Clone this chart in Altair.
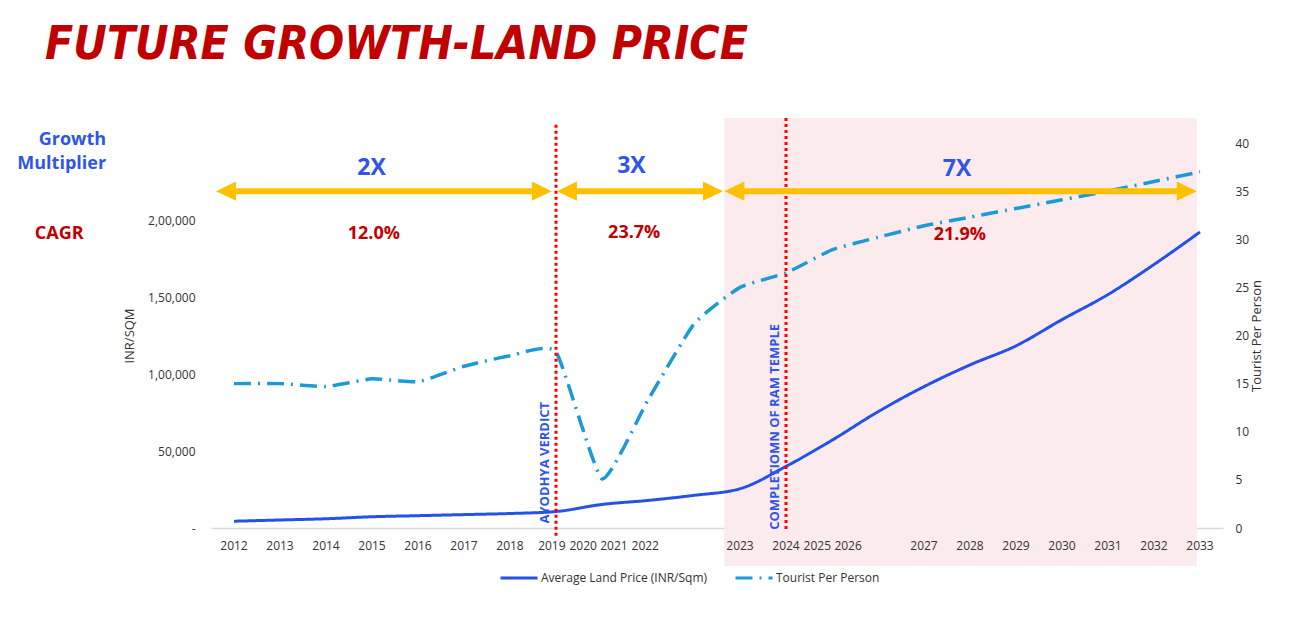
import json
import altair as alt
import pandas as pd

# ---------------- data ----------------
years = list(range(2012, 2034))
land_price = [4400, 5200, 6000, 7300, 8000, 8700, 9400, 10700, 15300, 17900, 21200,
              25500, 40000, 57000, 75500, 91800, 105900, 118300, 135300, 151600, 171100, 192200]
tourists = [15.0, 15.0, 14.7, 15.5, 15.2, 16.8, 17.9, 18.3, 5.1, 13.3, 21.2,
            25.0, 26.5, 28.9, 30.2, 31.4, 32.3, 33.2, 34.1, 35.0, 36.0, 37.0]

series_names = ["Average Land Price (INR/Sqm)", "Tourist Per Person"]

# x tick labels (as placed in the original)
x_label_text = [str(y) for y in years]
x_label_year = [2012, 2013, 2014, 2015, 2016, 2017, 2018, 2018.91, 2019.59, 2020.26, 2020.94,
                2023, 2024, 2024.68, 2025.35, 2027, 2028, 2029, 2030, 2031, 2032, 2033]

left_ticks = [0, 50000, 100000, 150000, 200000]
left_tick_labels = ["-", "50,000", "1,00,000", "1,50,000", "2,00,000"]
right_ticks = [0, 5, 10, 15, 20, 25, 30, 35, 40]

# growth phases
phase_start = [2011.61, 2019.02, 2022.66]
phase_end = [2018.91, 2022.63, 2032.93]
multiplier = ["2X", "3X", "7X"]
mult_x = [2014.99, 2020.64, 2027.72]
mult_y = [37.4, 37.6, 37.3]
cagr = ["12.0%", "23.7%", "21.9%"]
cagr_x = [2015.04, 2020.70, 2027.78]
cagr_y = [30.5, 30.7, 30.4]
arrow_level = [35, 35, 35]

# events
event_year = [2019, 2024]
event_label = ["AYODHYA VERDICT", "COMPLETIOMN OF RAM TEMPLE"]
event_label_x = [2018.76, 2023.76]
event_label_y = [0.47, -0.19]
event_top = [41.9, 42.6]
event_bottom = [-0.9, -0.26]

# forecast band
band_start = [2022.66]
band_end = [2032.93]

row_labels = ["Growth", "Multiplier", "CAGR"]
TITLE = "FUTURE GROWTH-LAND PRICE"

# ---------------- styles ----------------
LINE_BLUE = "#2451E8"
LINE_CYAN = "#1C9AD6"
TEXT_BLUE = "#2F55E8"
DARK_RED = "#C00000"
GOLD = "#FFC000"
PINK = "#FCEBEC"
RED = "#FF0000"
FONT = "Open Sans"
TXT = "#333333"

W, H = 1012, 385
XDOM = [2011.5, 2033.5]
xscale = alt.Scale(domain=XDOM, nice=False, zero=False)
rscale = alt.Scale(domain=[0, 40], nice=False, zero=False)
lscale = alt.Scale(domain=[0, 250000], nice=False)

HEAD = 0.26  # shaft inset (years) under arrow heads

xaxis = alt.Axis(labels=False, ticks=False, grid=False, title=None,
                 domainColor="#D9D9D9", domainWidth=1.5)
label_expr = json.dumps(left_tick_labels) + "[round(datum.value / 50000)]"
laxis = alt.Axis(orient="left", values=left_ticks, labelExpr=label_expr,
                 title="INR/SQM", domain=False, ticks=False, grid=False,
                 labelPadding=16, titlePadding=11, labelFont=FONT, labelFontSize=12,
                 labelColor=TXT, titleFont=FONT, titleFontSize=13,
                 titleFontWeight="normal", titleColor=TXT)
raxis = alt.Axis(orient="right", values=right_ticks, title="Tourist Per Person",
                 titleAngle=270, domain=False, ticks=False, grid=False,
                 labelPadding=12, titlePadding=15, labelFont=FONT, labelFontSize=12,
                 labelColor=TXT, titleFont=FONT, titleFontSize=13,
                 titleFontWeight="normal", titleColor=TXT)

color_scale = alt.Scale(domain=series_names, range=[LINE_BLUE, LINE_CYAN])
dash_scale = alt.Scale(domain=series_names, range=[[1, 0], [17, 7, 2, 7]])
legend = alt.Legend(orient="none", legendX=288, legendY=415, direction="horizontal",
                    symbolType="stroke", symbolSize=1369, symbolStrokeWidth=3,
                    labelFont=FONT, labelFontSize=12, labelColor=TXT, labelLimit=0,
                    columnPadding=21, title=None, padding=0, labelOffset=2)


def X(field):
    return alt.X(field, scale=xscale, axis=xaxis)


def YR(field):
    return alt.Y(field, scale=rscale, axis=raxis)


# ---------------- tables ----------------
land_df = pd.DataFrame({"year": years, "value": land_price, "series": series_names[0]})
tour_df = pd.DataFrame({"year": years, "value": tourists, "series": series_names[1]})
xl_df = pd.DataFrame({"pos": x_label_year, "label": x_label_text})
phase_df = pd.DataFrame({
    "start": phase_start, "end": phase_end, "level": arrow_level,
    "shaft_start": [s + HEAD for s in phase_start],
    "shaft_end": [e - HEAD for e in phase_end],
    "mult": multiplier, "mx": mult_x, "my": mult_y,
    "cagr": cagr, "cx": cagr_x, "cy": cagr_y,
})
event_df = pd.DataFrame({"year": event_year, "label": event_label, "lx": event_label_x,
                         "ly": event_label_y, "top": event_top, "bottom": event_bottom})
band_df = pd.DataFrame({"start": band_start, "end": band_end})
row1_df = pd.DataFrame({"label": row_labels[:2], "x": [2009.22, 2009.22], "y": [40.3, 37.85]})
row2_df = pd.DataFrame({"label": [row_labels[2]], "x": [2008.2], "y": [30.5]})

# ---------------- left group ----------------
band = alt.Chart(band_df).mark_rect(color=PINK, opacity=1).encode(
    x=X("start:Q"), x2="end:Q",
    y=alt.value(-25), y2=alt.value(H + 38),
)

land_line = alt.Chart(land_df).mark_line(strokeWidth=3, interpolate="monotone").encode(
    x=X("year:Q"),
    y=alt.Y("value:Q", scale=lscale, axis=laxis),
    color=alt.Color("series:N", scale=color_scale, legend=legend),
    strokeDash=alt.StrokeDash("series:N", scale=dash_scale, legend=legend),
)

left_group = alt.layer(band, land_line)

# ---------------- right group ----------------
tour_line = alt.Chart(tour_df).mark_line(strokeWidth=3.5, interpolate="cardinal",
                                         tension=0.55).encode(
    x=X("year:Q"),
    y=YR("value:Q"),
    color=alt.Color("series:N", scale=color_scale, legend=legend),
    strokeDash=alt.StrokeDash("series:N", scale=dash_scale, legend=legend),
)

xlabels = alt.Chart(xl_df).mark_text(font=FONT, fontSize=12, color=TXT, baseline="middle").encode(
    x=X("pos:Q"), y=alt.value(H + 18), text="label:N",
)

event_lines = alt.Chart(event_df).mark_rule(color=RED, strokeWidth=3, strokeDash=[3, 3]).encode(
    x=X("year:Q"), y=YR("top:Q"), y2="bottom:Q",
)

event_text = alt.Chart(event_df).mark_text(
    angle=270, align="left", baseline="middle", font=FONT, fontSize=13,
    fontWeight="bold", color=TEXT_BLUE).encode(
    x=X("lx:Q"), y=YR("ly:Q"), text="label:N",
)

shafts = alt.Chart(phase_df).mark_rule(color=GOLD, strokeWidth=6).encode(
    x=X("shaft_start:Q"), x2="shaft_end:Q", y=YR("level:Q"),
)
head_r = alt.Chart(phase_df).mark_point(
    shape="M0,0L-1,-0.48L-1,0.48Z", filled=True, size=1600, color=GOLD,
    opacity=1, strokeWidth=0).encode(x=X("end:Q"), y=YR("level:Q"))
head_l = alt.Chart(phase_df).mark_point(
    shape="M0,0L1,-0.48L1,0.48Z", filled=True, size=1600, color=GOLD,
    opacity=1, strokeWidth=0).encode(x=X("start:Q"), y=YR("level:Q"))
mult_text = alt.Chart(phase_df).mark_text(
    font=FONT, fontSize=23, fontWeight="bold", color=TEXT_BLUE, baseline="middle").encode(
    x=X("mx:Q"), y=YR("my:Q"), text="mult:N",
)
cagr_text = alt.Chart(phase_df).mark_text(
    font=FONT, fontSize=18, fontWeight="bold", color=DARK_RED, baseline="middle").encode(
    x=X("cx:Q"), y=YR("cy:Q"), text="cagr:N",
)
row1_text = alt.Chart(row1_df).mark_text(
    font=FONT, fontSize=18, fontWeight="bold", baseline="middle",
    align="right", color=TEXT_BLUE).encode(
    x=X("x:Q"), y=YR("y:Q"), text="label:N",
)
row2_text = alt.Chart(row2_df).mark_text(
    font=FONT, fontSize=18, fontWeight="bold", baseline="middle",
    align="center", color=DARK_RED).encode(
    x=X("x:Q"), y=YR("y:Q"), text="label:N",
)
title_text = alt.Chart(pd.DataFrame({"t": [TITLE]})).mark_text(
    font="DejaVu Sans Condensed, Liberation Sans, sans-serif", fontSize=46,
    fontWeight="bold", fontStyle="italic",
    color=DARK_RED, align="left", baseline="alphabetic").encode(
    x=alt.value(-166), y=alt.value(-84), text="t:N",
)

right_group = alt.layer(tour_line, xlabels, event_lines, event_text, shafts, head_r, head_l,
                        mult_text, cagr_text, row1_text, row2_text, title_text)

chart = alt.layer(left_group, right_group).resolve_scale(y="independent").properties(
    width=W, height=H,
    autosize=alt.AutoSizeParams(type="none"),
    padding={"left": 203, "top": 135, "right": 55, "bottom": 85},
).configure_view(stroke=None)

chart.save("out.html", embed_options={"renderer": "svg", "actions": False})
